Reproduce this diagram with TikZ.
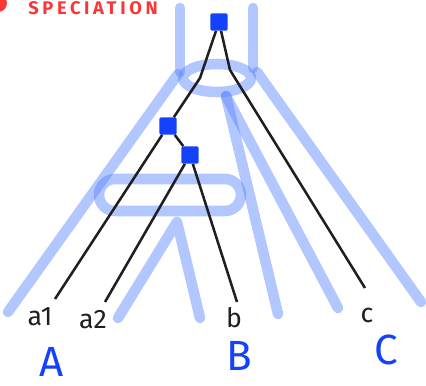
\documentclass[tikz,border=0pt]{standalone}
\usepackage{fontspec}
\setmainfont{Fira Sans}
\definecolor{tubeblue}{RGB}{95,135,255}
\definecolor{dupblue}{RGB}{20,65,250}
\definecolor{spred}{RGB}{250,55,55}

\begin{document}
\begin{tikzpicture}[x=0.025cm, y=-0.025cm,
        tube/.style={draw=tubeblue, draw opacity=0.48, line width=7.5pt, line cap=round, line join=round},
        gene/.style={draw=black!88, line width=1.8pt, line join=round},
        dup/.style={rectangle, fill=dupblue, minimum size=0.43cm, inner sep=0pt, rounded corners=1pt},
        leaf/.style={font=\fontsize{19}{19}\selectfont, text=black!88, inner sep=0pt},
        species/.style={font=\fontsize{30}{30}\selectfont, text=dupblue, inner sep=0pt}]

    \useasboundingbox (0,0) rectangle (426,386);
    \clip (0,0) rectangle (426,386);

    % title
    \fill[spred] (-2,3) circle (9);
    \node[anchor=base west, text=spred, font=\bfseries\fontsize{13}{13}\selectfont\addfontfeature{LetterSpace=20}, inner sep=0pt] (title) at (28,14.5) {SPECIATION};

    % species tree
    \draw[tube] (180,8) -- (180,72);
    \draw[tube] (253,8) -- (253,68);
    \draw[tube] (217,78) ellipse [x radius=34, y radius=14];
    \draw[tube] (178,74) -- (8,312);
    \draw[tube] (226,96) -- (278,314);
    \draw[tube] (226,96) -- (338,308);
    \draw[tube] (257,72) -- (421,302);
    \draw[tube, rounded corners=0.4cm] (99,179) rectangle (241,211);
    \draw[tube] (118,318) -- (177,222) -- (200,318);

    % gene tree
    \node[dup] (g0) at (219,22) {};
    \node[dup] (g1) at (168,126) {};
    \node[dup] (g2) at (190,155) {};
    \coordinate (k0) at (200,78);
    \coordinate (k1) at (230,70);
    \coordinate (ta1) at (55,299);
    \coordinate (ta2) at (105,302);
    \coordinate (tb) at (237,302);
    \coordinate (tc) at (365,288);

    \draw[gene] (g0) -- (k0) -- (g1);
    \draw[gene] (g0) -- (k1) -- (tc);
    \draw[gene] (g1) -- (g2);
    \draw[gene] (g1) -- (ta1);
    \draw[gene] (g2) -- (ta2);
    \draw[gene] (g2) -- (tb);

    % labels
    \node[leaf] (a1) at (40,317) {a1};
    \node[leaf] (a2) at (93,320) {a2};
    \node[leaf] (b) at (234,318) {b};
    \node[leaf] (c) at (367,315) {c};
    \node[species] (A) at (52,362) {A};
    \node[species] (B) at (239,356) {B};
    \node[species] (C) at (386,350) {C};
\end{tikzpicture}
\end{document}
